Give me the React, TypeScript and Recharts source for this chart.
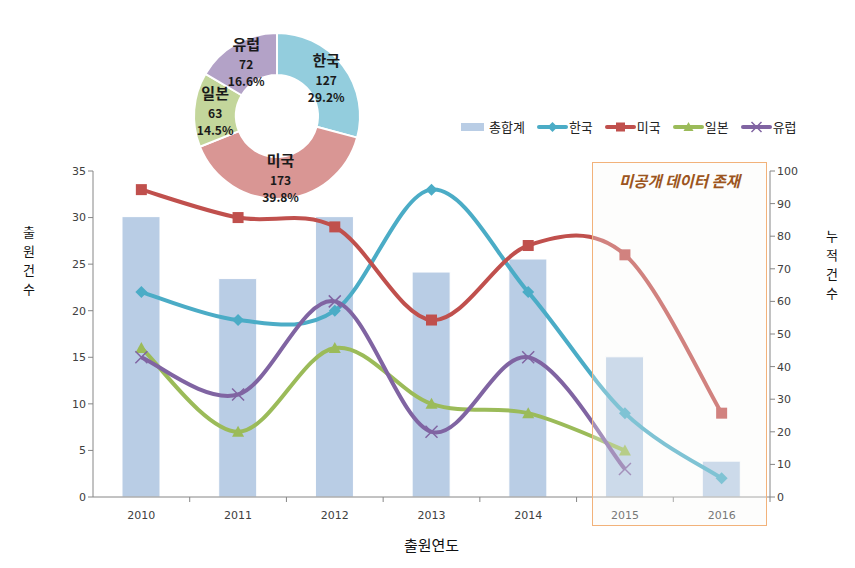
import React from 'react'
import {
  ComposedChart,
  Bar,
  Line,
  XAxis,
  YAxis,
  PieChart,
  Pie,
  Cell,
} from 'recharts'

const YEARS = ['2010', '2011', '2012', '2013', '2014', '2015', '2016']
const TOTAL = [86, 67, 86, 69, 73, 43, 11]
const KOREA = [22, 19, 20, 33, 22, 9, 2]
const USA = [33, 30, 29, 19, 27, 26, 9]
const JAPAN = [16, 7, 16, 10, 9, 5, null]
const EUROPE = [15, 11, 21, 7, 15, 3, null]

const LEFT_TICKS = [0, 5, 10, 15, 20, 25, 30, 35]
const RIGHT_TICKS = [0, 10, 20, 30, 40, 50, 60, 70, 80, 90, 100]

const PIE_NAMES = ['한국', '미국', '일본', '유럽']
const PIE_VALUES = [127, 173, 63, 72]
const PIE_COLORS = ['#93cddd', '#d99694', '#c3d69b', '#b3a2c7']

const C = {
  total: '#b9cde5',
  korea: '#4bacc6',
  usa: '#c0504d',
  japan: '#9bbb59',
  europe: '#8064a2',
  axis: '#868686',
  text: '#404040',
}

const KO_FONT = '"Noto Sans CJK KR", "DejaVu Sans", sans-serif'
const TICK_FONT = '"DejaVu Sans", Verdana, sans-serif'

const data = YEARS.map((year, i) => ({
  year,
  total: TOTAL[i],
  korea: KOREA[i],
  usa: USA[i],
  japan: JAPAN[i],
  europe: EUROPE[i],
}))

const pieData = PIE_NAMES.map((name, i) => ({ name, value: PIE_VALUES[i] }))

// excel style smoothing (catmull-rom through the points)
const excelCurve = (context: any) => {
  let pts: number[][] = []
  return {
    areaStart() {},
    areaEnd() {},
    lineStart() {
      pts = []
    },
    lineEnd() {
      if (!pts.length) return
      context.moveTo(pts[0][0], pts[0][1])
      for (let i = 0; i < pts.length - 1; i++) {
        const p0 = pts[Math.max(i - 1, 0)]
        const p1 = pts[i]
        const p2 = pts[i + 1]
        const p3 = pts[Math.min(i + 2, pts.length - 1)]
        context.bezierCurveTo(
          p1[0] + (p2[0] - p0[0]) / 6,
          p1[1] + (p2[1] - p0[1]) / 6,
          p2[0] - (p3[0] - p1[0]) / 6,
          p2[1] - (p3[1] - p1[1]) / 6,
          p2[0],
          p2[1]
        )
      }
    },
    point(x: number, y: number) {
      pts.push([+x, +y])
    },
  }
}

const markerShape = (shape: string, cx: number, cy: number, color: string, s = 6) => {
  if (shape === 'diamond')
    return <path d={`M${cx},${cy - s}L${cx + s},${cy}L${cx},${cy + s}L${cx - s},${cy}Z`} fill={color} />
  if (shape === 'square')
    return <rect x={cx - s + 0.5} y={cy - s + 0.5} width={2 * s - 1} height={2 * s - 1} fill={color} />
  if (shape === 'triangle')
    return <path d={`M${cx},${cy - s}L${cx + s},${cy + s - 1}L${cx - s},${cy + s - 1}Z`} fill={color} />
  return (
    <path
      d={`M${cx - s},${cy - s}L${cx + s},${cy + s}M${cx - s},${cy + s}L${cx + s},${cy - s}`}
      stroke={color}
      strokeWidth={1.5}
      fill="none"
    />
  )
}

const makeDot = (shape: string, color: string) => (props: any) => {
  const { cx, cy, index, value } = props
  if (cx == null || cy == null || value == null) return <g key={`d-${shape}-${index}`} />
  return <g key={`d-${shape}-${index}`}>{markerShape(shape, cx, cy, color)}</g>
}

const XTick = (props: any) => {
  const { x, y, payload } = props
  const half = payload.offset || 48
  return (
    <g>
      <line x1={x + half} x2={x + half} y1={y - 8} y2={y - 3} stroke={C.axis} />
      <text x={x} y={y + 14} textAnchor="middle" fontSize={11} fill={C.text} fontFamily={TICK_FONT}>
        {payload.value}
      </text>
    </g>
  )
}

const LEGEND_ITEMS = [
  { name: '총합계', color: C.total, shape: 'bar' },
  { name: '한국', color: C.korea, shape: 'diamond' },
  { name: '미국', color: C.usa, shape: 'square' },
  { name: '일본', color: C.japan, shape: 'triangle' },
  { name: '유럽', color: C.europe, shape: 'x' },
]

const ChartLegend = () => (
  <div
    style={{
      position: 'absolute',
      left: 460,
      top: 117,
      display: 'flex',
      alignItems: 'center',
      fontFamily: KO_FONT,
      fontSize: 13,
      color: '#222',
    }}
  >
    {LEGEND_ITEMS.map((item) => (
      <div key={item.name} style={{ display: 'flex', alignItems: 'center', marginRight: 12 }}>
        <svg width={item.shape === 'bar' ? 25 : 31} height={16}>
          {item.shape === 'bar' ? (
            <rect x={1} y={4} width={23} height={8} fill={item.color} />
          ) : (
            <g>
              <line x1={2} x2={29} y1={8} y2={8} stroke={item.color} strokeWidth={4} strokeLinecap="round" />
              {markerShape(item.shape, 15.5, 8, item.color, 5)}
            </g>
          )}
        </svg>
        <span style={{ marginLeft: item.shape === 'bar' ? 4 : 1 }}>{item.name}</span>
      </div>
    ))}
  </div>
)

const RADIAN = Math.PI / 180

const renderPieLabel = (props: any) => {
  const { cx, cy, midAngle, innerRadius, outerRadius, name, value, percent } = props
  const r = (innerRadius + outerRadius) / 2
  const x = cx + r * Math.cos(-midAngle * RADIAN)
  const y = cy + r * Math.sin(-midAngle * RADIAN)
  return (
    <text x={x} y={y} textAnchor="middle" fill="#1a1a1a" fontFamily={KO_FONT} fontWeight="bold">
      <tspan x={x} dy={-12} fontSize={15}>
        {name}
      </tspan>
      <tspan x={x} dy={19} fontSize={12}>
        {value}
      </tspan>
      <tspan x={x} dy={17} fontSize={12}>
        {(percent * 100).toFixed(1)}%
      </tspan>
    </text>
  )
}

const VerticalTitle = ({ text, left, top }: { text: string; left: number; top: number }) => (
  <div
    style={{
      position: 'absolute',
      left,
      top,
      width: 18,
      display: 'flex',
      flexDirection: 'column',
      alignItems: 'center',
      fontFamily: KO_FONT,
      fontSize: 13,
      lineHeight: '19px',
      color: '#111',
    }}
  >
    {text.split('').map((ch, i) => (
      <span key={i}>{ch}</span>
    ))}
  </div>
)

export default function App() {
  return (
    <div style={{ position: 'absolute', left: 0, top: 0, width: 855, height: 568, background: '#fff' }}>
      <ComposedChart
        width={855}
        height={568}
        data={data}
        margin={{ top: 171, right: 45, bottom: 11, left: 53 }}
        barSize={38}
      >
        <XAxis
          dataKey="year"
          stroke={C.axis}
          tickLine={false}
          tick={<XTick />}
          height={60}
          label={{
            value: '출원연도',
            position: 'insideBottom',
            offset: 6,
            fontSize: 15,
            fill: '#111',
            fontFamily: KO_FONT,
          }}
        />
        <YAxis
          yAxisId="left"
          width={40}
          domain={[0, 35]}
          ticks={LEFT_TICKS}
          interval={0}
          stroke={C.axis}
          tickSize={5}
          tick={{ fontSize: 11, fill: C.text, fontFamily: TICK_FONT }}
        />
        <YAxis
          yAxisId="right"
          orientation="right"
          width={40}
          domain={[0, 100]}
          ticks={RIGHT_TICKS}
          interval={0}
          stroke={C.axis}
          tickSize={5}
          tick={{ fontSize: 11, fill: C.text, fontFamily: TICK_FONT }}
        />
        <Bar
          yAxisId="right"
          dataKey="total"
          name="총합계"
          fill={C.total}
          stroke="#fff"
          strokeWidth={1}
          isAnimationActive={false}
        />
        <Line
          yAxisId="left"
          dataKey="korea"
          name="한국"
          type={excelCurve as any}
          stroke={C.korea}
          strokeWidth={4}
          dot={makeDot('diamond', C.korea)}
          activeDot={false}
          isAnimationActive={false}
        />
        <Line
          yAxisId="left"
          dataKey="usa"
          name="미국"
          type={excelCurve as any}
          stroke={C.usa}
          strokeWidth={4}
          dot={makeDot('square', C.usa)}
          activeDot={false}
          isAnimationActive={false}
        />
        <Line
          yAxisId="left"
          dataKey="japan"
          name="일본"
          type={excelCurve as any}
          stroke={C.japan}
          strokeWidth={4}
          dot={makeDot('triangle', C.japan)}
          activeDot={false}
          isAnimationActive={false}
        />
        <Line
          yAxisId="left"
          dataKey="europe"
          name="유럽"
          type={excelCurve as any}
          stroke={C.europe}
          strokeWidth={4}
          dot={makeDot('x', C.europe)}
          activeDot={false}
          isAnimationActive={false}
        />
      </ComposedChart>

      <ChartLegend />

      {/* 미공개 데이터 box */}
      <div
        style={{
          position: 'absolute',
          left: 592,
          top: 162,
          width: 175,
          height: 364,
          border: '1.5px solid #f2b27a',
          background: 'rgba(250, 248, 244, 0.3)',
          boxSizing: 'border-box',
        }}
      >
        <div
          style={{
            marginTop: 6,
            textAlign: 'center',
            fontFamily: KO_FONT,
            fontStyle: 'italic',
            fontWeight: 'bold',
            fontSize: 15.5,
            color: '#9c5520',
          }}
        >
          미공개 데이터 존재
        </div>
      </div>

      <VerticalTitle text="출원건수" left={20} top={222} />
      <VerticalTitle text="누적건수" left={823} top={226} />

      <div style={{ position: 'absolute', left: 172, top: 11 }}>
        <PieChart width={200} height={200}>
          <Pie
            data={pieData}
            dataKey="value"
            nameKey="name"
            cx={100}
            cy={100}
            innerRadius={41}
            outerRadius={83}
            startAngle={90}
            endAngle={-270}
            stroke="#fff"
            strokeWidth={2}
            labelLine={false}
            label={renderPieLabel}
            isAnimationActive={false}
          >
            {pieData.map((entry, index) => (
              <Cell key={`cell-${index}`} fill={PIE_COLORS[index]} />
            ))}
          </Pie>
        </PieChart>
      </div>
    </div>
  )
}
